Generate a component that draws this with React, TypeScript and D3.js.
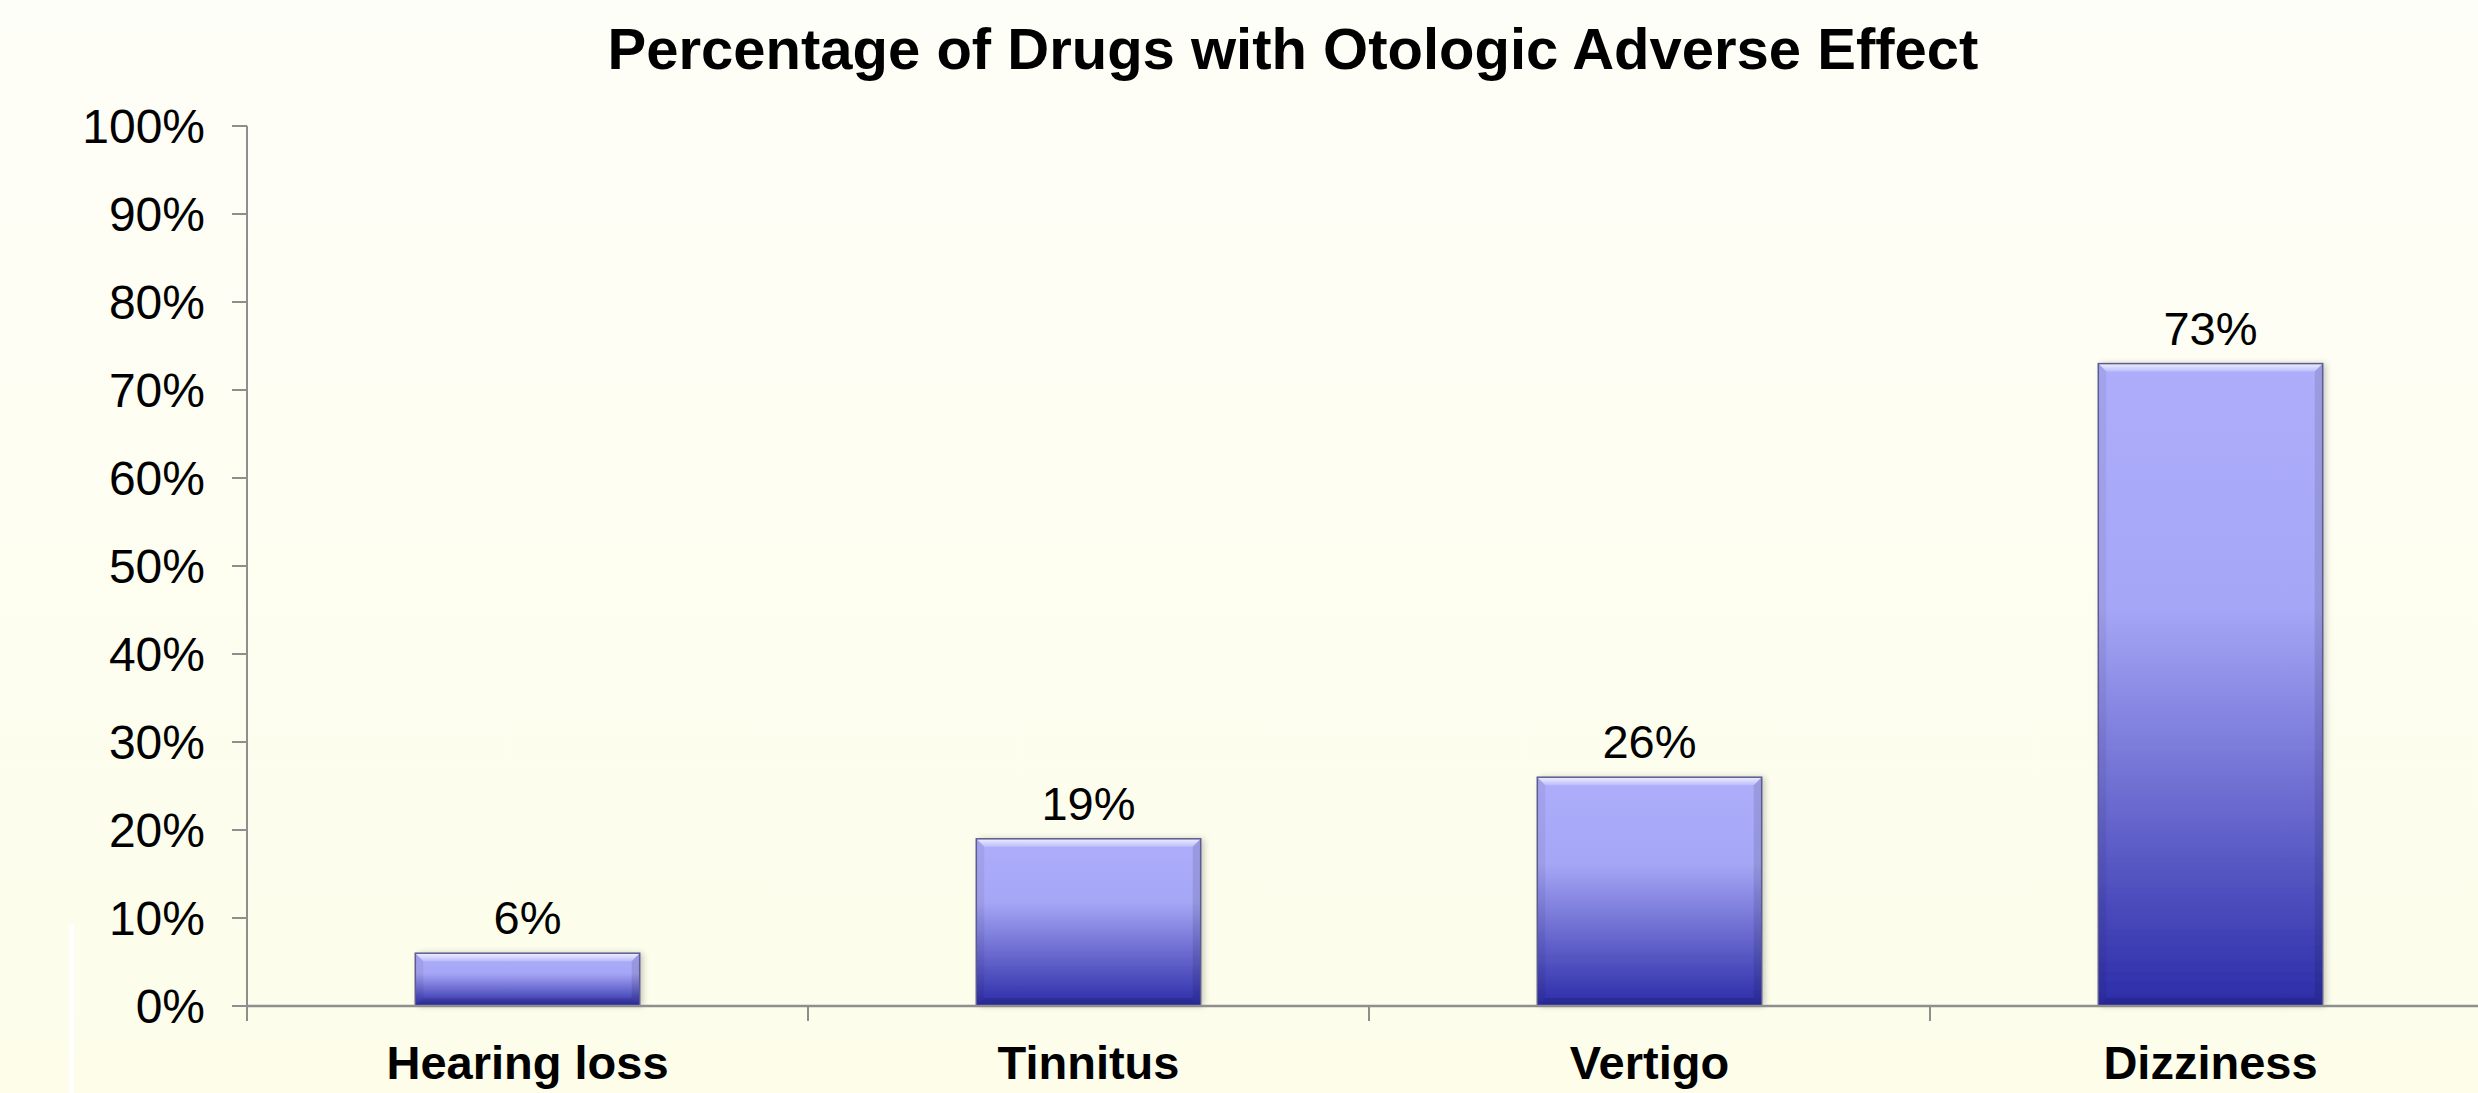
import React from 'react';
import * as d3 from 'd3';

const categories = ['Hearing loss', 'Tinnitus', 'Vertigo', 'Dizziness'];
const percentages = [0.06, 0.19, 0.26, 0.73];
const chartTitle = 'Percentage of Drugs with Otologic Adverse Effect';

const WIDTH = 2478;
const HEIGHT = 1093;
const margin = { top: 126, right: -13, bottom: 87, left: 247 };
const FONT = '"Liberation Sans", Arial, Helvetica, sans-serif';
const AXIS = '#8e8e8e';

export default function App() {
  const x = d3.scaleBand<string>()
    .domain(categories)
    .range([margin.left, WIDTH - margin.right])
    .paddingInner(0.6)
    .paddingOuter(0.3);

  const y = d3.scaleLinear()
    .domain([0, 1])
    .range([HEIGHT - margin.bottom, margin.top]);

  const fmt = d3.format('.0%');
  const yTicks = y.ticks(10);
  const x0 = x.range()[0];
  const x1 = x.range()[1];
  const step = x.step();
  const boundaries = d3.range(categories.length + 1).map(i => x0 + i * step);
  const base = y(0);
  const bev = 8;

  return (
    <svg width={WIDTH} height={HEIGHT}
         style={{ position: 'absolute', left: 0, top: 0, display: 'block' }}
         fontFamily={FONT}>
      <defs>
        <linearGradient id="bg" x1="0" y1="0" x2="0" y2="1">
          <stop offset="0" stopColor="#fefef8" />
          <stop offset="1" stopColor="#fdfdea" />
        </linearGradient>
        <linearGradient id="barFill" x1="0" y1="0" x2="0" y2="1">
          <stop offset="0" stopColor="#adadfc" />
          <stop offset="0.38" stopColor="#a6a6f6" />
          <stop offset="1" stopColor="#2c2ca8" />
        </linearGradient>
        <linearGradient id="topBevel" x1="0" y1="0" x2="0" y2="1">
          <stop offset="0" stopColor="#ffffff" stopOpacity="0.8" />
          <stop offset="1" stopColor="#ffffff" stopOpacity="0.2" />
        </linearGradient>
        <filter id="shadow" x="-10%" y="-10%" width="130%" height="130%">
          <feDropShadow dx="3" dy="0" stdDeviation="3" floodColor="#000" floodOpacity="0.22" />
        </filter>
      </defs>

      <rect x={0} y={0} width={WIDTH} height={HEIGHT} fill="url(#bg)" />
      <rect x={69} y={925} width={5} height={HEIGHT - 925} fill="#ffffff" />

      <text x={1293} y={69} textAnchor="middle" fontSize={58} fontWeight="bold" fill="#000">
        {chartTitle}
      </text>

      {/* y axis */}
      <line x1={x0} x2={x0} y1={y(1)} y2={base + 15} stroke={AXIS} strokeWidth={2} />
      {yTicks.map(t => (
        <g key={t}>
          <line x1={x0 - 15} x2={x0} y1={y(t)} y2={y(t)} stroke={AXIS} strokeWidth={2} />
          <text x={205} y={y(t)} dy="0.36em" textAnchor="end" fontSize={48} fill="#000">
            {fmt(t)}
          </text>
        </g>
      ))}

      {/* bars */}
      {categories.map((c, i) => {
        const bx = x(c)!;
        const bw = x.bandwidth();
        const by = y(percentages[i]);
        const bh = base - by;
        return (
          <g key={c}>
            <rect x={bx} y={by} width={bw} height={bh} fill="url(#barFill)" filter="url(#shadow)" />
            <polygon
              points={`${bx},${by} ${bx + bw},${by} ${bx + bw - bev},${by + bev} ${bx + bev},${by + bev}`}
              fill="url(#topBevel)" />
            <polygon
              points={`${bx},${by} ${bx + bev},${by + bev} ${bx + bev},${base - bev} ${bx},${base}`}
              fill="#000" fillOpacity={0.06} />
            <polygon
              points={`${bx + bw},${by} ${bx + bw - bev},${by + bev} ${bx + bw - bev},${base - bev} ${bx + bw},${base}`}
              fill="#000" fillOpacity={0.1} />
            <polygon
              points={`${bx},${base} ${bx + bev},${base - bev} ${bx + bw - bev},${base - bev} ${bx + bw},${base}`}
              fill="#000" fillOpacity={0.12} />
            <rect x={bx} y={by} width={bw} height={bh} fill="none" stroke="#5c5c8e" strokeWidth={1.5} />
            <text x={bx + bw / 2} y={by - 19} textAnchor="middle" fontSize={47} fill="#000">
              {fmt(percentages[i])}
            </text>
          </g>
        );
      })}

      {/* x axis */}
      <line x1={x0} x2={x1} y1={base} y2={base} stroke={AXIS} strokeWidth={2.5} />
      {boundaries.map((b, i) => (
        <line key={i} x1={b} x2={b} y1={base} y2={base + 15} stroke={AXIS} strokeWidth={2} />
      ))}
      {categories.map(c => (
        <text key={c} x={x(c)! + x.bandwidth() / 2} y={1079} textAnchor="middle"
              fontSize={47} fontWeight="bold" fill="#000">
          {c}
        </text>
      ))}
    </svg>
  );
}
